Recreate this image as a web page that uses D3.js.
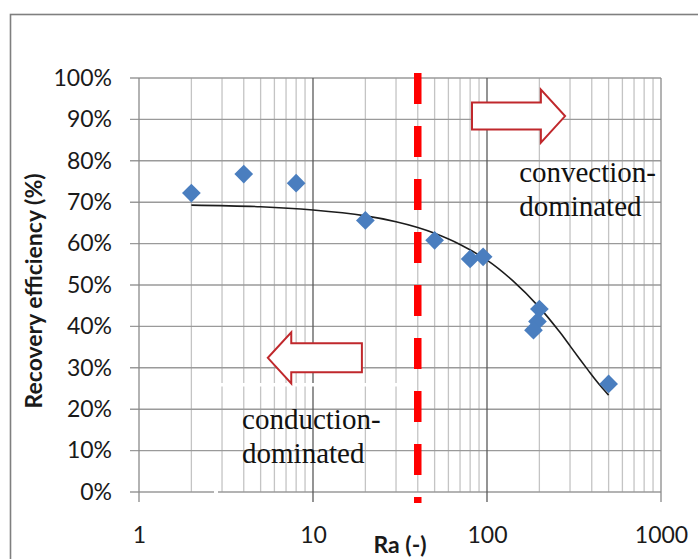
<!DOCTYPE html>
<html>
<head>
<meta charset="utf-8">
<script src="https://cdn.jsdelivr.net/npm/d3@7"></script>
<style>
  body { margin: 0; background: #fff; }
  svg { display: block; }
</style>
</head>
<body>
<svg id="chart" width="698" height="559"></svg>
<script>
// Measured recovery efficiency against Rayleigh number
const ra = [2, 4, 8, 20, 50, 80, 95, 200, 195, 185, 500];
const efficiency = [72.2, 76.8, 74.6, 65.6, 60.8, 56.3, 56.8, 44.2, 41.2, 39.1, 26.1];

// Second-order trend line through the measurements
const trendRa = [2, 5, 10, 20, 30, 40, 50, 70, 100, 140, 200, 260, 300, 340, 380, 420, 460, 500];
const trendEfficiency = [69.3, 68.9, 68.1, 66.7, 65.3, 63.9, 62.5, 59.8, 56.0, 51.1, 44.6, 38.8, 35.3, 32.2, 29.5, 27.1, 25.1, 23.4];

// Axis ticks
const raTicks = [1, 10, 100, 1000];
const efficiencyTicks = [0, 10, 20, 30, 40, 50, 60, 70, 80, 90, 100];

// Regime boundary
const boundaryRa = [40];

const svg = d3.select("#chart");
const W = 698, H = 559;
const plot = { left: 139, right: 661, top: 78, bottom: 492 };

const x = d3.scaleLog().domain([1, 1000]).range([plot.left, plot.right]);
const y = d3.scaleLinear().domain([0, 100]).range([plot.bottom, plot.top]);

svg.append("rect").attr("width", W).attr("height", H).attr("fill", "#fff");

// Chart-area frame (runs off the right and bottom edges)
svg.append("rect")
  .attr("x", 10.5).attr("y", 14.5)
  .attr("width", 720).attr("height", 600)
  .attr("fill", "none").attr("stroke", "#7f7f7f").attr("stroke-width", 1.6);

const grid = svg.append("g");

// Minor vertical gridlines (2..9 within each decade)
const allRa = x.ticks();
grid.selectAll("line.minor")
  .data(allRa.filter(d => !raTicks.includes(d)))
  .join("line")
  .attr("x1", d => x(d)).attr("x2", d => x(d))
  .attr("y1", plot.top).attr("y2", plot.bottom)
  .attr("stroke", "#c4c4c4").attr("stroke-width", 1.3);

// Horizontal gridlines with their tick stubs
grid.selectAll("line.h")
  .data(efficiencyTicks)
  .join("line")
  .attr("x1", plot.left - 9).attr("x2", plot.right)
  .attr("y1", d => y(d)).attr("y2", d => y(d))
  .attr("stroke", "#9a9a9a").attr("stroke-width", 1.4);

// Decade gridlines with tick stubs below the axis
grid.selectAll("line.major")
  .data(raTicks)
  .join("line")
  .attr("x1", d => x(d)).attr("x2", d => x(d))
  .attr("y1", plot.top).attr("y2", plot.bottom + 10)
  .attr("stroke", d => (d === 1 || d === 1000) ? "#8a8a8a" : "#5a5a5a")
  .attr("stroke-width", 1.3);

// Small breaks in the grid behind the lower text box
svg.append("rect").attr("x", 218).attr("y", 383).attr("width", 194).attr("height", 3.5).attr("fill", "#fff");
svg.append("rect").attr("x", 214).attr("y", 490).attr("width", 4).attr("height", 4).attr("fill", "#fff");

// Axes labels
const tickFont = "Lato, 'Liberation Sans', sans-serif";
const yAxis = svg.append("g")
  .attr("transform", `translate(${plot.left},0)`)
  .call(d3.axisLeft(y).tickValues(efficiencyTicks).tickFormat(d => d + "%").tickSize(0).tickPadding(27));
yAxis.select(".domain").remove();
yAxis.selectAll("text")
  .attr("font-family", tickFont).attr("font-size", 23).attr("fill", "#1a1a1a");

const xAxis = svg.append("g")
  .attr("transform", `translate(0,${plot.bottom})`)
  .call(d3.axisBottom(x).tickValues(raTicks).tickFormat(d3.format("d")).tickSize(0).tickPadding(35));
xAxis.select(".domain").remove();
xAxis.selectAll("text")
  .attr("font-family", tickFont).attr("font-size", 23).attr("fill", "#1a1a1a");

svg.append("text")
  .attr("transform", "translate(42,291) rotate(-90)")
  .attr("text-anchor", "middle")
  .attr("font-family", tickFont).attr("font-weight", "bold").attr("font-size", 23)
  .attr("fill", "#1a1a1a")
  .text("Recovery efficiency (%)");

svg.append("text")
  .attr("x", (plot.left + plot.right) / 2).attr("y", 553)
  .attr("text-anchor", "middle")
  .attr("font-family", tickFont).attr("font-weight", "bold").attr("font-size", 23)
  .attr("fill", "#1a1a1a")
  .text("Ra (-)");

// Trend line
const trend = trendRa.map((r, i) => [r, trendEfficiency[i]]);
svg.append("path")
  .datum(trend)
  .attr("fill", "none").attr("stroke", "#1c1c1c").attr("stroke-width", 1.6)
  .attr("d", d3.line().x(d => x(d[0])).y(d => y(d[1])).curve(d3.curveCatmullRom.alpha(0.5)));

// Measurements as diamonds
const diamond = d3.symbol().type(d3.symbolSquare).size(175);
svg.selectAll("path.pt")
  .data(ra.map((r, i) => [r, efficiency[i]]))
  .join("path")
  .attr("d", diamond)
  .attr("transform", d => `translate(${x(d[0])},${y(d[1])}) rotate(45)`)
  .attr("fill", "#4a7ebf");

// Conduction/convection boundary
svg.selectAll("line.boundary")
  .data(boundaryRa)
  .join("line")
  .attr("x1", d => x(d)).attr("x2", d => x(d))
  .attr("y1", plot.top - 5).attr("y2", plot.bottom + 11)
  .attr("stroke", "#ff0000").attr("stroke-width", 7.5)
  .attr("stroke-dasharray", "31,22");

// Block arrows pointing into each regime
function blockArrow(tipRa, baseRa, tailRa, level, bodyHalf, headHalf) {
  const tx = x(tipRa), bx = x(baseRa), ex = x(tailRa), cy = y(level);
  return `M${ex},${cy - bodyHalf} L${bx},${cy - bodyHalf} L${bx},${cy - headHalf} L${tx},${cy}` +
         ` L${bx},${cy + headHalf} L${bx},${cy + bodyHalf} L${ex},${cy + bodyHalf} Z`;
}
svg.append("path")
  .attr("d", blockArrow(281, 204, 82, 90.8, 13.5, 26.5))
  .attr("fill", "#fff").attr("stroke", "#c0282c").attr("stroke-width", 2);
svg.append("path")
  .attr("d", blockArrow(5.5, 7.5, 19.1, 32.4, 14.5, 25.5))
  .attr("fill", "#fff").attr("stroke", "#c0282c").attr("stroke-width", 2);

// Regime labels
const serif = "'Liberation Serif', 'Times New Roman', serif";
function regimeLabel(raLeft, level, lines) {
  const t = svg.append("text")
    .attr("x", x(raLeft)).attr("y", y(level))
    .attr("font-family", serif).attr("font-size", 29).attr("fill", "#111");
  lines.forEach((s, i) => {
    t.append("tspan").attr("x", x(raLeft)).attr("dy", i === 0 ? 0 : 34).text(s);
  });
}
regimeLabel(153, 74.9, ["convection-", "dominated"]);
regimeLabel(3.91, 15.2, ["conduction-", "dominated"]);
</script>
</body>
</html>
